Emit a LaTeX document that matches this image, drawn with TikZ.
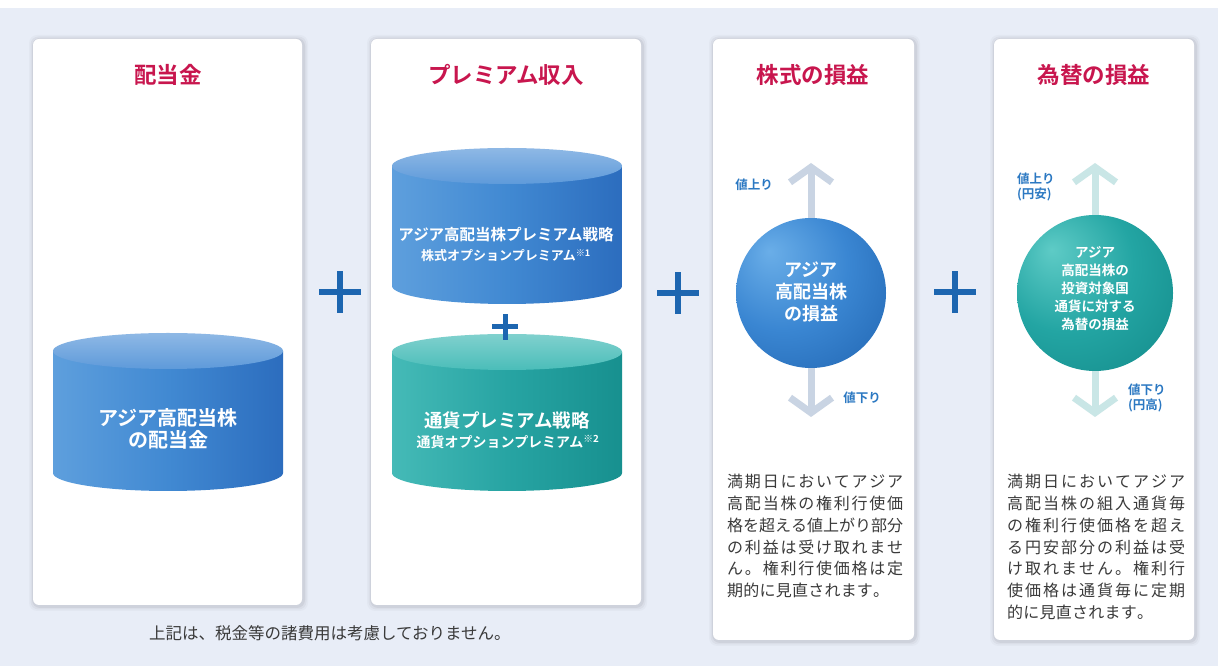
\documentclass[tikz,border=0pt]{standalone}
\usepackage{fontspec}
\newfontfamily\jp{Noto Sans CJK JP}[BoldFont={Noto Sans CJK JP Bold}]
\usetikzlibrary{arrows.meta}
\definecolor{bgcol}{HTML}{E8EDF7}
\definecolor{titlered}{HTML}{C8164E}
\definecolor{plusblue}{HTML}{1D66B0}
\definecolor{cA1}{HTML}{5E9FDD}
\definecolor{cA2}{HTML}{4189D2}
\definecolor{cA3}{HTML}{2C6DBE}
\definecolor{cAt}{HTML}{5E9ADA}
\definecolor{cB1}{HTML}{45BAB7}
\definecolor{cB2}{HTML}{27A4A3}
\definecolor{cB3}{HTML}{17908F}
\definecolor{cBt}{HTML}{4ABDB9}
\definecolor{sA1}{HTML}{6AAEE8}
\definecolor{sA2}{HTML}{3A86D2}
\definecolor{sA3}{HTML}{1A5CA8}
\definecolor{sB1}{HTML}{5ECBC6}
\definecolor{sB2}{HTML}{23A5A3}
\definecolor{sB3}{HTML}{0F8383}
\definecolor{arrA}{HTML}{C9D4E3}
\definecolor{arrB}{HTML}{C9E6E6}
\definecolor{lblue}{HTML}{2B78C2}
\definecolor{bodytxt}{HTML}{3A3A3A}
\pgfdeclareradialshading{sphshA}{\pgfpoint{-14bp}{14bp}}{color(0bp)=(sA1); color(22bp)=(sA2); color(50bp)=(sA3); color(70bp)=(sA3)}
\pgfdeclareradialshading{sphshB}{\pgfpoint{-14bp}{14bp}}{color(0bp)=(sB1); color(22bp)=(sB2); color(50bp)=(sB3); color(70bp)=(sB3)}
\def\spreadit#1{\ifx#1\relax\else#1\hfil\expandafter\spreadit\fi}
\newcommand{\jfull}[2]{\hbox to #1{\spreadit#2\relax\unskip}}
\tikzset{
  every node/.style={font=\jp, inner sep=0pt},
  titletext/.style={font=\jp\bfseries\fontsize{22.5}{26}\selectfont, text=titlered},
  plusbar/.style={line width=6pt, draw=plusblue},
  smallplus/.style={line width=5pt, draw=plusblue},
  cyltext/.style={text=white, align=center},
  sphtext/.style={text=white, align=center},
  updown/.style={text=lblue, font=\jp\bfseries\fontsize{12.5}{15.5}\selectfont, align=left},
  bodytext/.style={text=bodytxt, align=left, font=\jp\fontsize{16}{21.8}\selectfont},
  arrowA/.style={line width=7pt, draw=arrA, -{Straight Barb[length=15pt,width=42pt]}},
  arrowB/.style={line width=7pt, draw=arrB, -{Straight Barb[length=15pt,width=42pt]}}
}
\newcommand{\panelbox}[4]{%
  \foreach \s/\o in {5/0.025,3.5/0.035,2/0.05}{%
    \fill[black,opacity=\o,rounded corners=8pt] (#1-\s+1,#2-\s-1) rectangle (#3+\s+1,#4+\s-1);}
  \fill[white,rounded corners=6pt] (#1,#2) rectangle (#3,#4);}
% cylinder: cx, rx, ytop, ybottom, ry, left, mid, right, top colour
\newcommand{\cylshape}[9]{%
  \shade[left color=#6, right color=#8, middle color=#7]
    (#1-#2,#3) -- (#1-#2,#4) arc[start angle=180,end angle=360,x radius=#2,y radius=#5] -- (#1+#2,#3) -- cycle;
  \shade[top color=#9!70!white, bottom color=#9] (#1,#3) ellipse[x radius=#2,y radius=#5];}
\newcommand{\plusmark}[4]{%
  \draw[#4] (#1-#3,#2) -- (#1+#3,#2);
  \draw[#4] (#1,#2-#3) -- (#1,#2+#3);}
\begin{document}
\begin{tikzpicture}[x=1pt,y=1pt]
\useasboundingbox (0,0) rectangle (1218,666);
\fill[bgcol] (0,0) rectangle (1218,658);
\fill[white] (0,658) rectangle (1218,666);
% panels
\panelbox{33}{61}{302}{627}
\panelbox{371}{61}{641}{627}
\panelbox{713}{26}{914}{627}
\panelbox{994}{26}{1194}{627}
% titles
\node[titletext] (t1) at (168,591) {配当金};
\node[titletext] (t2) at (506,591) {プレミアム収入};
\node[titletext] (t3) at (813,591) {株式の損益};
\node[titletext] (t4) at (1094,591) {為替の損益};
% cylinders
\cylshape{168}{115}{315}{193}{18}{cA1}{cA2}{cA3}{cAt}
\cylshape{507}{115}{500}{380}{18}{cA1}{cA2}{cA3}{cAt}
\cylshape{507}{115}{314}{193}{18}{cB1}{cB2}{cB3}{cBt}
\node[cyltext, font=\jp\bfseries\fontsize{20}{22}\selectfont] (c1) at (168,237) {アジア高配当株\\の配当金};
\node[cyltext, font=\jp\bfseries\fontsize{15.5}{18}\selectfont] (c2a) at (506,431) {アジア高配当株プレミアム戦略};
\node[cyltext, font=\jp\bfseries\fontsize{13}{15}\selectfont] (c2b) at (506,410) {株式オプションプレミアム\textsuperscript{※1}};
\node[cyltext, font=\jp\bfseries\fontsize{18.5}{21}\selectfont] (c3a) at (507,246) {通貨プレミアム戦略};
\node[cyltext, font=\jp\bfseries\fontsize{14}{16}\selectfont] (c3b) at (508,224) {通貨オプションプレミアム\textsuperscript{※2}};
% plus signs
\plusmark{505}{339}{13}{smallplus}
\plusmark{340}{374}{21}{plusbar}
\plusmark{678}{373}{21}{plusbar}
\plusmark{955}{374}{21}{plusbar}
% sphere 1
\coordinate (upA) at (811,503);
\coordinate (dnA) at (811,249);
\node[circle, minimum size=150pt, shading=sphshA] (sA) at (811,373) {};
\draw[arrowA] (sA.north) -- (upA);
\draw[arrowA] (sA.south) -- (dnA);
\node[sphtext, font=\jp\bfseries\fontsize{18}{22}\selectfont] (sAt) at (811,374) {アジア\\高配当株\\の損益};
\node[updown] (uA) at (754,481) {値上り};
\node[updown] (dA) at (862,268) {値下り};
% sphere 2
\coordinate (upB) at (1095,503);
\coordinate (dnB) at (1095,249);
\node[circle, minimum size=156pt, shading=sphshB] (sB) at (1095,373) {};
\draw[arrowB] (sB.north) -- (upB);
\draw[arrowB] (sB.south) -- (dnB);
\node[sphtext, font=\jp\bfseries\fontsize{13.5}{18}\selectfont] (sBt) at (1095,377) {アジア\\高配当株の\\投資対象国\\通貨に対する\\為替の損益};
\node[updown, anchor=west] (uB) at (1017,479) {値上り\\(円安)};
\node[updown, anchor=west] (dB) at (1128,268) {値下り\\(円高)};
% body texts
\node[bodytext, anchor=north west] (bA) at (727,192) {%
\jfull{176pt}{満期日においてアジア}\\
\jfull{176pt}{高配当株の権利行使価}\\
\jfull{176pt}{格を超える値上がり部分}\\
\jfull{176pt}{の利益は受け取れませ}\\
\jfull{176pt}{ん。権利行使価格は定}\\
\jfull{162pt}{期的に見直されます。}};
\node[bodytext, anchor=north west] (bB) at (1007,192) {%
\jfull{178pt}{満期日においてアジア}\\
\jfull{178pt}{高配当株の組入通貨毎}\\
\jfull{178pt}{の権利行使価格を超え}\\
\jfull{178pt}{る円安部分の利益は受}\\
\jfull{178pt}{け取れません。権利行}\\
\jfull{178pt}{使価格は通貨毎に定期}\\
\jfull{146pt}{的に見直されます。}};
% footer
\node[anchor=west, text=bodytxt, font=\jp\fontsize{16.5}{19}\selectfont] (foot) at (149,33) {上記は、税金等の諸費用は考慮しておりません。};
\end{tikzpicture}
\end{document}
